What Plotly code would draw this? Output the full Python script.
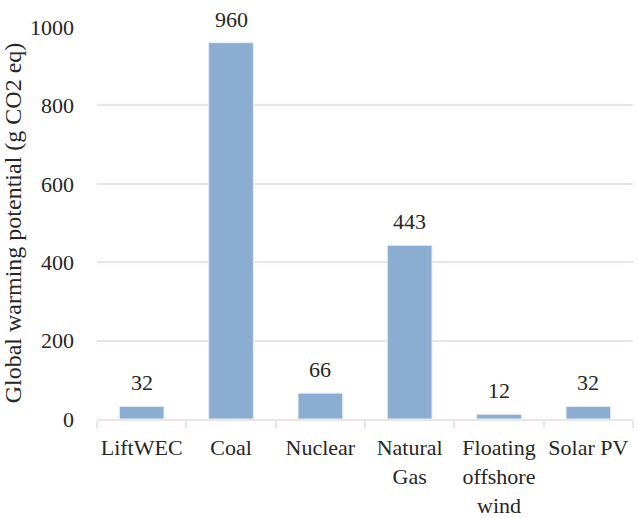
import plotly.graph_objects as go

# Life-cycle greenhouse gas emissions per kWh by generation technology
categories = ["LiftWEC", "Coal", "Nuclear", "Natural<br>Gas",
              "Floating<br>offshore<br>wind", "Solar PV"]
gwp_values = [32, 960, 66, 443, 12, 32]
y_ticks = [0, 200, 400, 600, 800, 1000]

FONT = "Liberation Serif, Times New Roman, DejaVu Serif, serif"
GRID = "#ece3e3"
BAR = "#8cadd2"
TXT = "#262626"

fig = go.Figure()
fig.add_trace(go.Bar(
    x=categories,
    y=gwp_values,
    marker=dict(color=BAR, line=dict(color="#e3ecf6", width=1)),
    width=0.5,
    hoverinfo="x+y",
))

# value labels above each bar
for cat, val in zip(categories, gwp_values):
    fig.add_annotation(
        x=cat, y=val, text=str(val), showarrow=False,
        yanchor="bottom", yshift=9,
        font=dict(family=FONT, size=22, color=TXT),
    )

fig.update_layout(
    width=638, height=518,
    margin=dict(l=97, r=5, t=27, b=99),
    paper_bgcolor="white",
    plot_bgcolor="white",
    showlegend=False,
    font=dict(family=FONT, size=22, color=TXT),
    xaxis=dict(
        showgrid=False, automargin=False, tickangle=0,
        showline=True, linecolor=GRID, linewidth=2,
        ticks="outside", tickson="boundaries", ticklen=7,
        tickcolor=GRID, tickwidth=2, ticklabelstandoff=8,
        tickfont=dict(family=FONT, size=22, color=TXT),
    ),
    yaxis=dict(
        range=[0, 1000], automargin=False,
        tickvals=y_ticks,
        showgrid=True, gridcolor=GRID, gridwidth=2,
        zeroline=False, showline=False,
        ticks="", ticklabelstandoff=22,
        tickfont=dict(family=FONT, size=22, color=TXT),
        title=dict(text="Global warming potential (g CO2 eq)",
                   font=dict(family=FONT, size=24, color=TXT),
                   standoff=8),
    ),
)

fig.write_html("out.html")
